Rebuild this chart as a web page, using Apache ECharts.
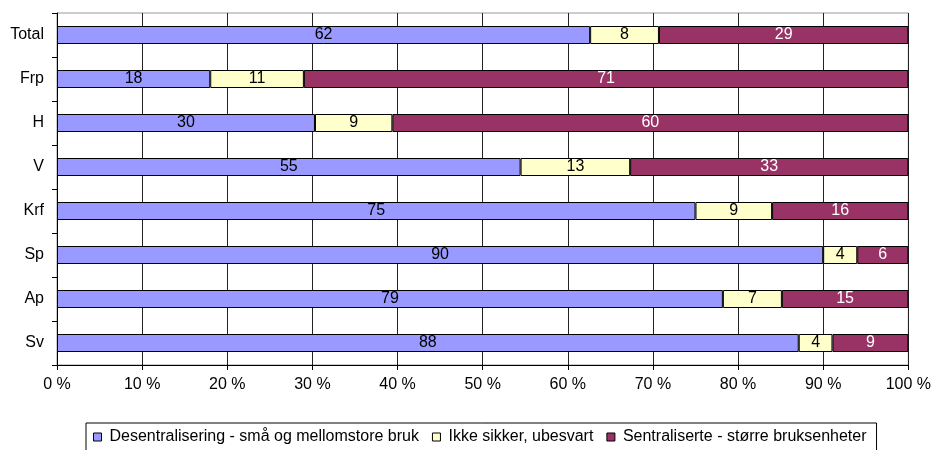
<!DOCTYPE html>
<html>
<head>
<meta charset="utf-8">
<script src="https://cdn.jsdelivr.net/npm/echarts@6/dist/echarts.min.js"></script>
<style>
  html, body { margin: 0; padding: 0; background: #fff; }
  #chart { width: 934px; height: 450px; }
</style>
</head>
<body>
<div id="chart"></div>
<script>
// party answers, top to bottom
const categories = ['Total', 'Frp', 'H', 'V', 'Krf', 'Sp', 'Ap', 'Sv'];
const seriesNames = [
  'Desentralisering - små og mellomstore bruk',
  'Ikke sikker, ubesvart',
  'Sentraliserte - større bruksenheter',
];
const desentral  = [62, 18, 30, 55, 75, 90, 79, 88];
const ikkeSikker = [8, 11, 9, 13, 9, 4, 7, 4];
const sentral    = [29, 71, 60, 33, 16, 6, 15, 9];
const xTicks = [0, 10, 20, 30, 40, 50, 60, 70, 80, 90, 100];

const COLORS = ['#9999FF', '#FFFFCC', '#993366'];
const LABEL_COLORS = ['#000', '#000', '#fff'];
const FONT = 'Liberation Sans, Arial, sans-serif';

const raw = [desentral, ikkeSikker, sentral];
// 100 % stacked: each row is scaled to its own total
const totals = categories.map((_, i) => raw.reduce((s, arr) => s + arr[i], 0));

const c = echarts.init(document.getElementById('chart'), null, { renderer: 'canvas' });
c.setOption({
  animation: false,
  textStyle: { fontFamily: FONT },
  grid: {
    left: 57, right: 25, top: 13, bottom: 85,
    show: true, borderColor: '#999', borderWidth: 1,
  },
  xAxis: {
    type: 'value', min: 0, max: 100, interval: 10,
    axisLine: { show: true, lineStyle: { color: '#000' } },
    axisTick: { show: true, length: 5, lineStyle: { color: '#000' } },
    axisLabel: {
      color: '#000', fontSize: 16, fontFamily: FONT, margin: 12,
      formatter: v => xTicks.includes(v) ? v + ' %' : '',
    },
    splitLine: { show: true, lineStyle: { color: '#222', width: 1 } },
  },
  yAxis: {
    type: 'category', data: categories, inverse: true,
    axisLine: { show: true, lineStyle: { color: '#000' } },
    axisTick: { show: true, length: 5, lineStyle: { color: '#000' } },
    axisLabel: { color: '#000', fontSize: 16, fontFamily: FONT, margin: 13 },
    splitLine: { show: false },
  },
  legend: {
    top: 423, left: 86,
    data: seriesNames,
    icon: 'rect', itemWidth: 8, itemHeight: 8, itemGap: 13,
    borderColor: '#000', borderWidth: 1, padding: [6, 10, 8, 7],
    textStyle: { color: '#000', fontSize: 16, fontFamily: FONT, padding: [0, 0, 0, 3] },
    itemStyle: { borderColor: '#000', borderWidth: 1 },
  },
  series: raw.map((arr, k) => ({
    name: seriesNames[k],
    type: 'bar',
    stack: 'total',
    barWidth: 18,
    data: arr.map((v, i) => ({ value: v / totals[i] * 100, raw: v })),
    itemStyle: { color: COLORS[k], borderColor: '#000', borderWidth: 1 },
    label: {
      show: true, position: 'inside',
      color: LABEL_COLORS[k], fontSize: 16, fontFamily: FONT,
      formatter: p => String(p.data.raw),
    },
  })),
});
</script>
</body>
</html>
